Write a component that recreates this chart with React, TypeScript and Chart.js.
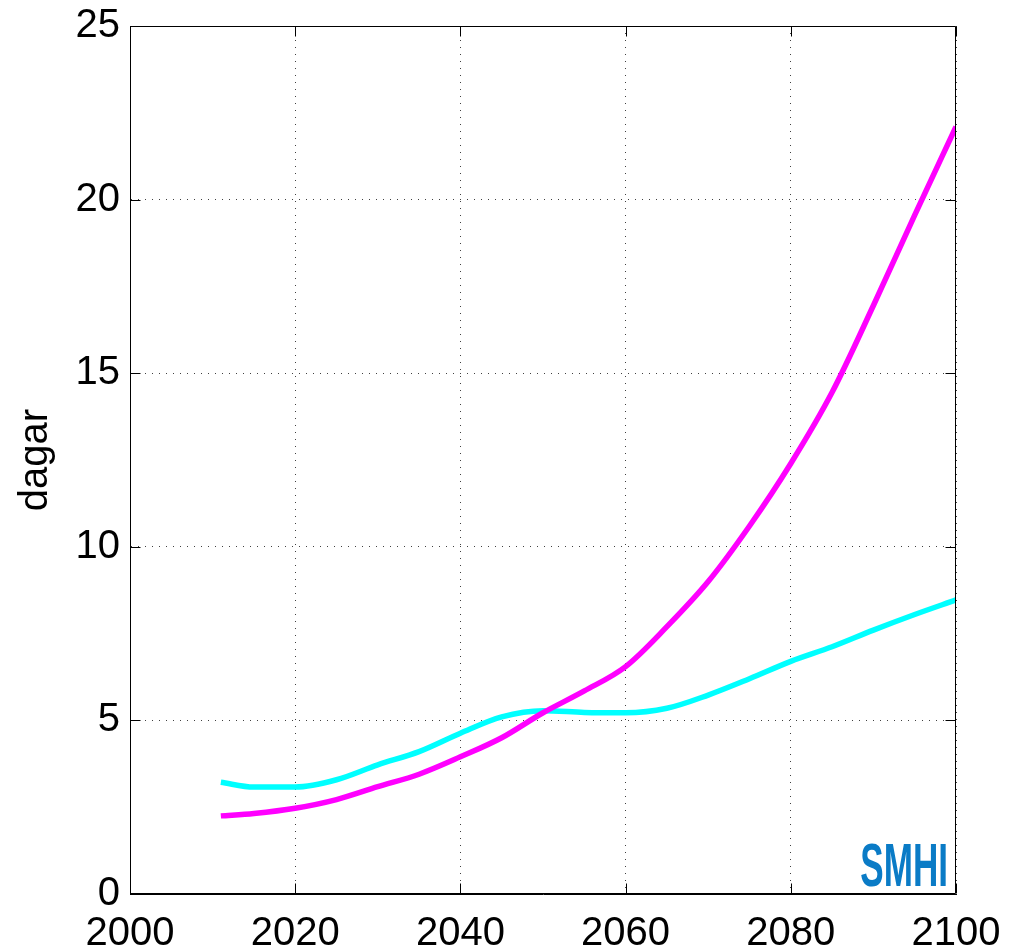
import React, { useEffect, useRef } from 'react';
import { Chart, registerables } from 'chart.js';

Chart.register(...registerables);

// ---- Data ----
const years = [2011, 2015, 2020, 2025, 2030, 2035, 2040, 2045, 2050, 2055, 2060, 2065, 2070, 2075, 2080, 2085, 2090, 2095, 2100];
const magentaValues = [2.25, 2.32, 2.47, 2.72, 3.09, 3.45, 3.95, 4.5, 5.22, 5.85, 6.55, 7.7, 9.0, 10.6, 12.4, 14.45, 16.95, 19.55, 22.1];
const cyanValues = [3.22, 3.08, 3.08, 3.29, 3.72, 4.1, 4.63, 5.1, 5.28, 5.23, 5.22, 5.35, 5.73, 6.2, 6.7, 7.12, 7.6, 8.05, 8.47];
const xTicks = [2000, 2020, 2040, 2060, 2080, 2100];
const yTicks = [0, 5, 10, 15, 20, 25];
const yLabel = 'dagar';
const logoText = 'SMHI';

const FONT = '"Liberation Sans", Arial, Helvetica, sans-serif';

export default function App() {
  const ref = useRef<HTMLCanvasElement>(null);

  useEffect(() => {
    if (!ref.current) return;

    const boxPlugin = {
      id: 'matlabBox',
      afterDatasetsDraw(chart: any) {
        const { ctx, chartArea: a, scales } = chart;
        ctx.save();
        // logo
        ctx.save();
        ctx.translate(a.right - 8, a.bottom - 8);
        ctx.scale(0.575, 1);
        ctx.font = 'bold 61px ' + FONT;
        ctx.fillStyle = '#0a7bc6';
        ctx.textAlign = 'right';
        ctx.textBaseline = 'alphabetic';
        ctx.fillText(logoText, 0, 0);
        ctx.restore();

        ctx.strokeStyle = '#000';
        ctx.lineWidth = 1;
        const L = Math.round(a.left) + 0.5;
        const R = Math.round(a.right) - 0.5;
        const T = Math.round(a.top) + 0.5;
        const B = Math.round(a.bottom) - 0.5;
        ctx.beginPath();
        ctx.rect(L, T, R - L, B - T);
        ctx.stroke();
        const tl = 10;
        ctx.beginPath();
        xTicks.forEach((v) => {
          const px = Math.round(scales.x.getPixelForValue(v)) + 0.5;
          ctx.moveTo(px, B);
          ctx.lineTo(px, B - tl);
          ctx.moveTo(px, T);
          ctx.lineTo(px, T + tl);
        });
        yTicks.forEach((v) => {
          const py = Math.round(scales.y.getPixelForValue(v)) + 0.5;
          ctx.moveTo(L, py);
          ctx.lineTo(L + tl, py);
          ctx.moveTo(R, py);
          ctx.lineTo(R - tl, py);
        });
        ctx.stroke();
        ctx.restore();
      },
    };

    const chart = new Chart(ref.current, {
      type: 'line',
      data: {
        datasets: [
          {
            data: years.map((x, i) => ({ x, y: magentaValues[i] })),
            borderColor: '#ff00ff',
            borderWidth: 5.5,
            pointRadius: 0,
            cubicInterpolationMode: 'monotone',
            fill: false,
          },
          {
            data: years.map((x, i) => ({ x, y: cyanValues[i] })),
            borderColor: '#00ffff',
            borderWidth: 5.5,
            pointRadius: 0,
            cubicInterpolationMode: 'monotone',
            fill: false,
          },
        ],
      },
      options: {
        animation: false,
        responsive: true,
        maintainAspectRatio: false,
        layout: { padding: { top: 26, right: 54, left: 0, bottom: 0 } },
        plugins: { legend: { display: false }, tooltip: { enabled: false } },
        scales: {
          x: {
            type: 'linear',
            min: 2000,
            max: 2100,
            afterBuildTicks: (s: any) => {
              s.ticks = xTicks.map((v) => ({ value: v }));
            },
            afterFit: (s: any) => {
              s.height = 58;
              s.paddingLeft = 0;
              s.paddingRight = 0;
            },
            ticks: {
              autoSkip: false,
              maxRotation: 0,
              padding: 16,
              color: '#000',
              font: { family: FONT, size: 40 },
              callback: (v: any) => String(v),
            },
            grid: { color: 'rgba(0,0,0,0.75)', lineWidth: 1, drawTicks: false },
            border: { display: true, color: '#000', width: 1, dash: [1, 6] },
          },
          y: {
            type: 'linear',
            min: 0,
            max: 25,
            afterBuildTicks: (s: any) => {
              s.ticks = yTicks.map((v) => ({ value: v }));
            },
            afterFit: (s: any) => {
              s.width = 130;
              s.paddingTop = 0;
              s.paddingBottom = 0;
            },
            ticks: {
              padding: 10,
              color: '#000',
              font: { family: FONT, size: 40 },
              callback: (v: any) => String(v),
            },
            title: {
              display: true,
              text: yLabel,
              color: '#000',
              font: { family: FONT, size: 40, lineHeight: 1 },
              padding: { top: 16, bottom: 0 },
            },
            grid: { color: 'rgba(0,0,0,0.75)', lineWidth: 1, drawTicks: false },
            border: { display: true, color: '#000', width: 1, dash: [1, 6] },
          },
        },
      },
      plugins: [boxPlugin],
    } as any);

    return () => chart.destroy();
  }, []);

  return (
    <div style={{ position: 'absolute', left: 0, top: 0, width: 1010, height: 952, background: '#fff' }}>
      <canvas ref={ref} />
    </div>
  );
}
